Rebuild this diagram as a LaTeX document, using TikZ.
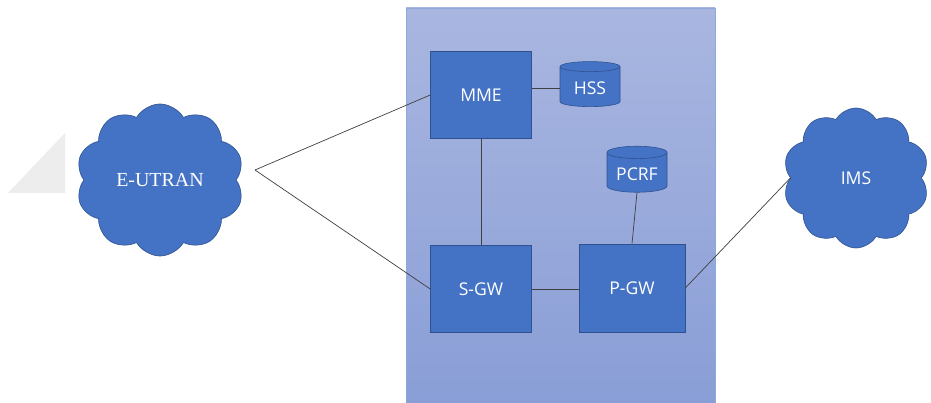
\documentclass[tikz,border=0pt]{standalone}
\usepackage{xcolor}
\usepackage{tikz}
\usepackage{fontspec}
\usetikzlibrary{shapes.geometric,shapes.symbols}

\newfontfamily\boxfont{Open Sans}
\newfontfamily\cloudfont{Liberation Serif}

\definecolor{nodeblue}{HTML}{4472C4}
\definecolor{nodeedge}{HTML}{2F528F}
\definecolor{coretop}{HTML}{A9B6E0}
\definecolor{corebot}{HTML}{889DD6}
\definecolor{coreedge}{HTML}{8EA8DC}
\definecolor{linkgray}{HTML}{404040}

\begin{document}
\begin{tikzpicture}[x=0.03cm, y=-0.03cm,
  elem/.style={draw=nodeedge, fill=nodeblue, text=white, font=\boxfont\fontsize{15}{17}\selectfont, line width=0.5pt},
  db/.style={elem, cylinder, shape border rotate=90, aspect=0.25},
  net/.style={draw=nodeedge, fill=nodeblue, text=white, cloud, cloud puffs=10, cloud puff arc=120, line width=0.5pt},
  link/.style={draw=linkgray, line width=0.6pt}]
  \useasboundingbox (0,0) rectangle (931,403);

  \fill[white] (0,0) rectangle (931,403);
  \fill[black!7] (8,193) -- (65,133) -- (65,193) -- cycle;

  \shade[top color=coretop, bottom color=corebot, draw=coreedge] (406,8) rectangle (715,420);

  \node[elem, minimum width=3.03cm, minimum height=2.61cm] (mme) at (481,95) {MME};
  \node[elem, minimum width=3.03cm, minimum height=2.61cm] (sgw) at (481,289) {S-GW};
  \node[elem, minimum width=3.18cm, minimum height=2.64cm] (pgw) at (632,288) {P-GW};
  \node[db, minimum width=1.8cm, minimum height=1.35cm] (hss) at (590,88) {HSS};
  \node[db, minimum width=1.8cm, minimum height=1.38cm] (pcrf) at (637,174) {PCRF};

  \node[net, minimum width=5.04cm, minimum height=4.32cm, font=\cloudfont\fontsize{17}{19}\selectfont] (eutran) at (160,180) {E-UTRAN};
  \node[net, minimum width=4.38cm, minimum height=4.2cm, font=\boxfont\fontsize{15}{17}\selectfont] (ims) at (856,178) {IMS};

  \coordinate (tip) at (255,170);

  \draw[link] (tip) -- (mme.west);
  \draw[link] (tip) -- (sgw.west);
  \draw[link] (hss.west) -- (hss.west -| mme.east);
  \draw[link] (mme.south) -- (sgw.north);
  \draw[link] (sgw.east) -- (sgw.east -| pgw.west);
  \draw[link] (pcrf.south) -- (pgw.north);
  \draw[link] (pgw.east) -- (ims.west);
\end{tikzpicture}
\end{document}
